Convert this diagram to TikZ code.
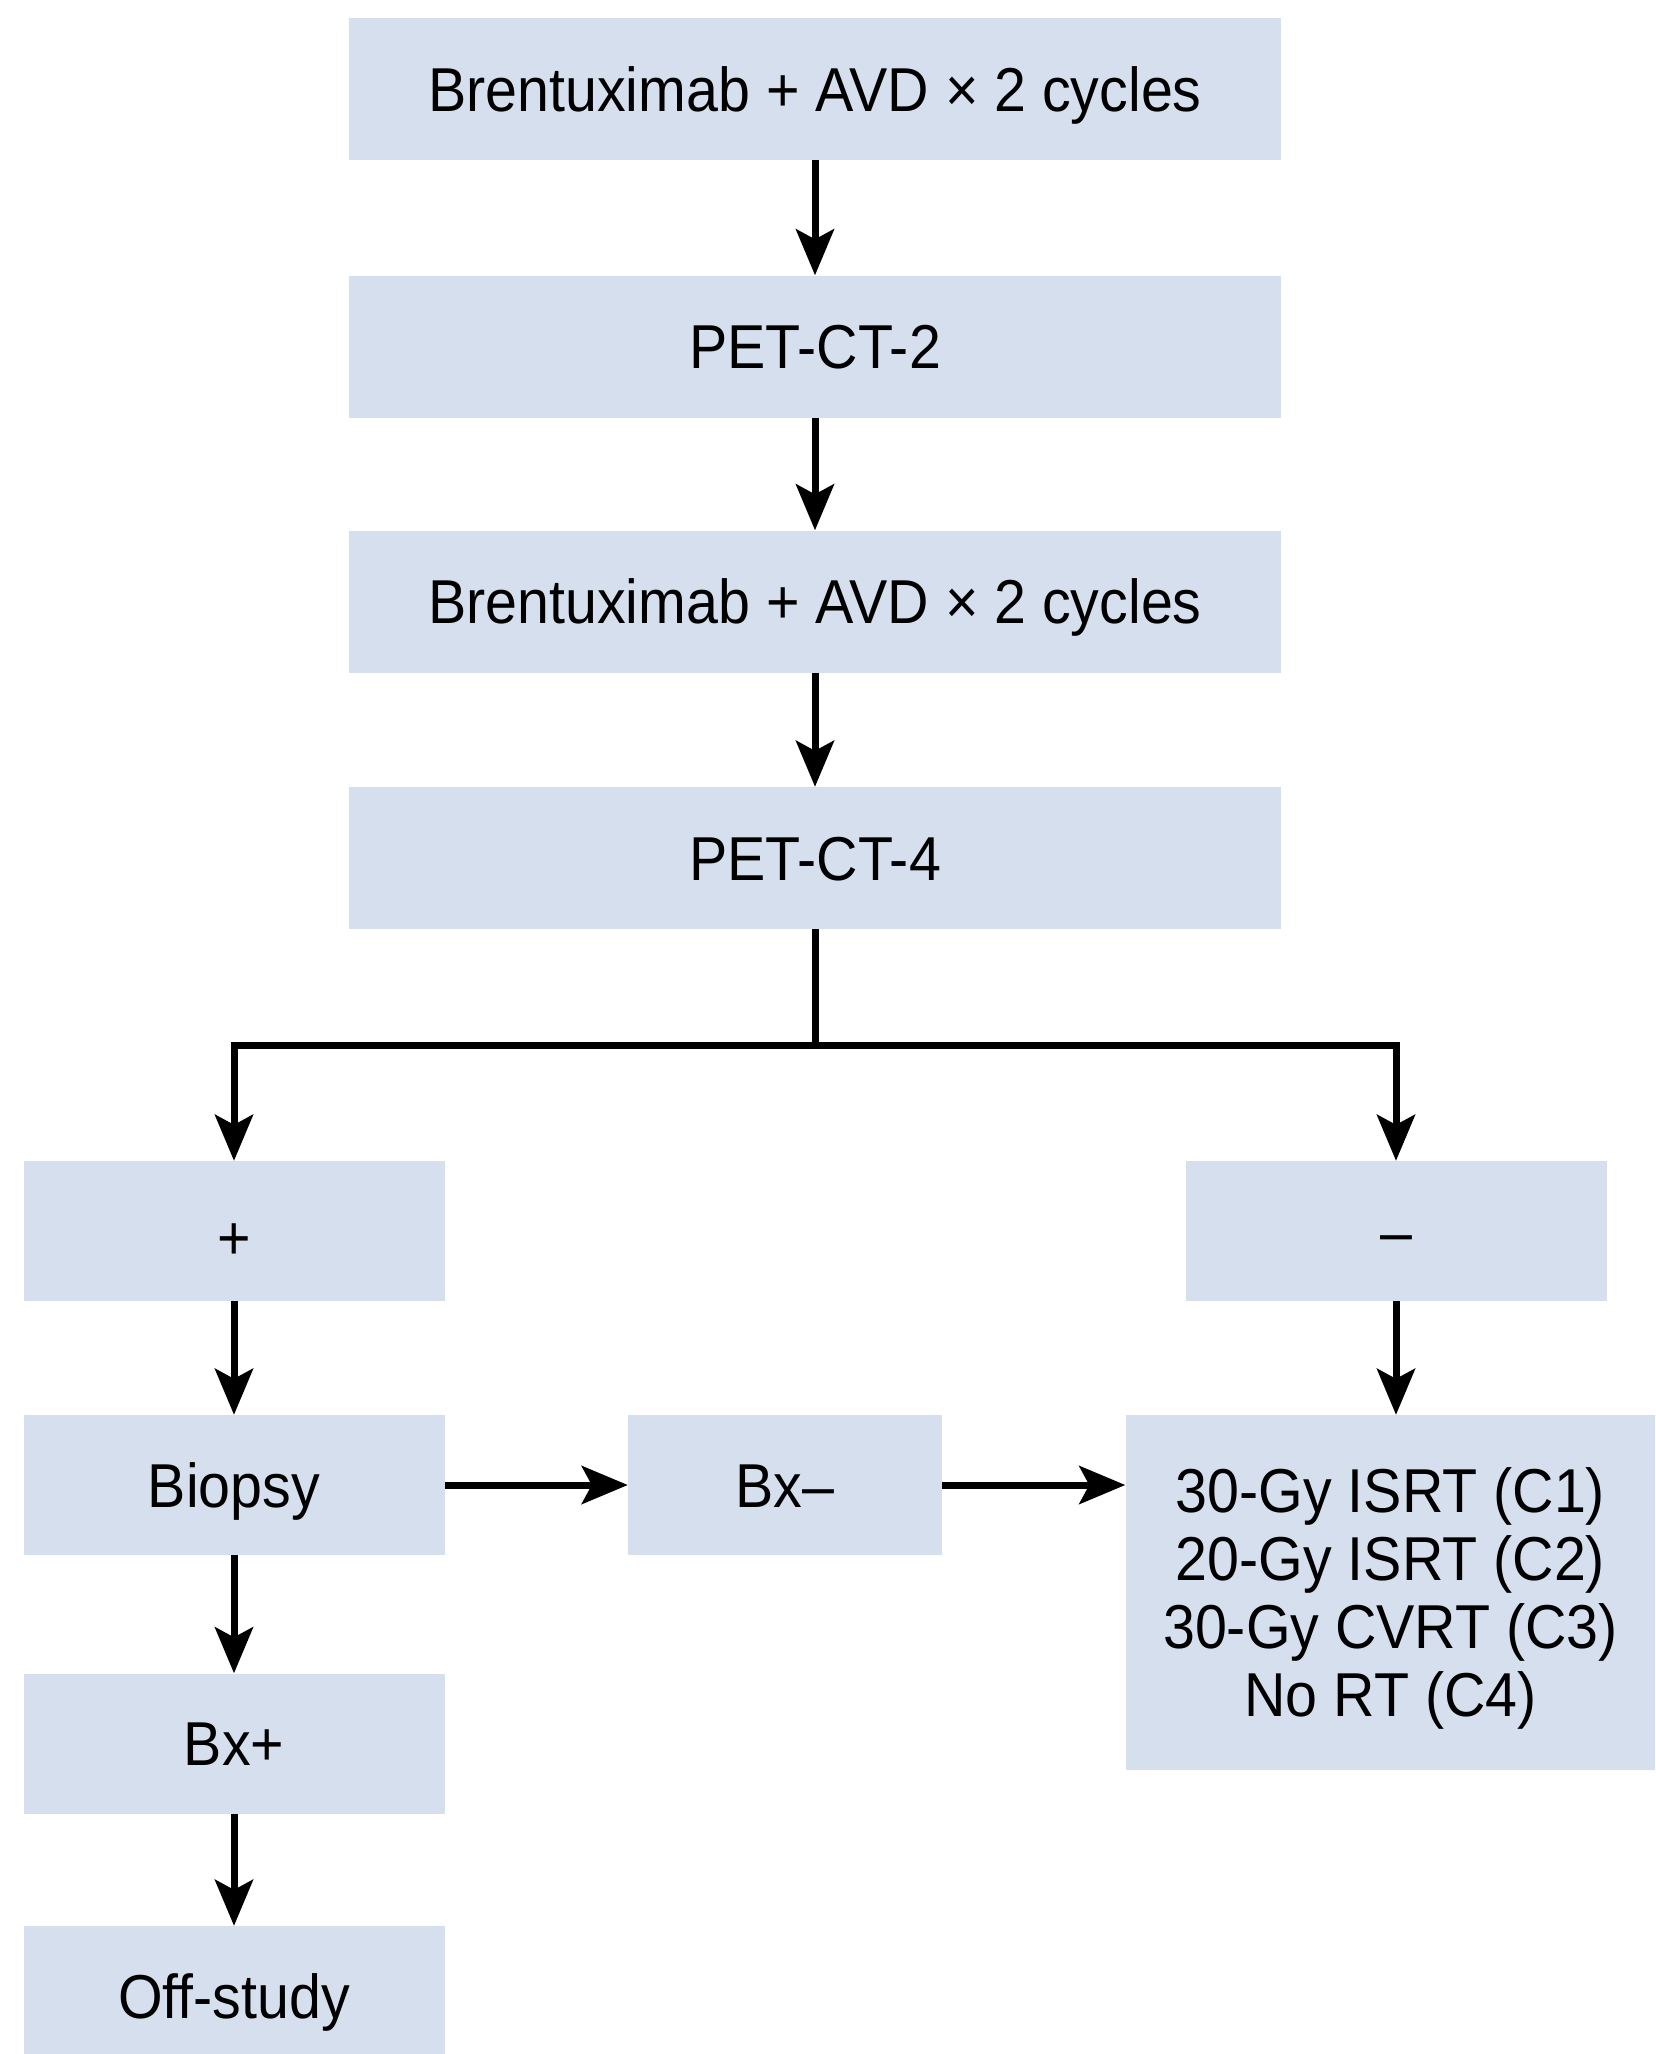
\documentclass[tikz,border=0pt]{standalone}
\usepackage{fontspec}
\setmainfont[FakeStretch=0.925]{Liberation Sans}
\usetikzlibrary{arrows.meta,calc}
\definecolor{boxfill}{HTML}{D5DFEE}
\begin{document}
\begin{tikzpicture}[x=1pt,y=-1pt,
  box/.style={fill=boxfill, inner sep=0pt, align=center,
    font=\fontsize{62}{68}\selectfont, text height=44pt, text depth=0pt},
  mbox/.style={fill=boxfill, inner sep=0pt, align=center,
    font=\fontsize{62}{68}\selectfont, text depth=0pt},
  wide/.style={minimum width=932pt, minimum height=142pt},
  small/.style={minimum width=421pt, minimum height=140pt},
  conn/.style={line width=7pt, -{Stealth[length=46pt,width=38pt,inset=10pt]}},
  plain/.style={line width=7pt}]
\useasboundingbox (0,0) rectangle (1655,2054);
\clip (0,0) rectangle (1655,2054);

\node[box, wide] (b1) at (815,89) {Brentuximab + AVD × 2 cycles};
\node[box, wide] (b2) at (815,346.5) {PET-CT-2};
\node[box, wide] (b3) at (815,601.5) {Brentuximab + AVD × 2 cycles};
\node[box, wide] (b4) at (815,858) {PET-CT-4};

\node[box, small] (plus) at (234,1231) {\raisebox{-6pt}{+}};
\node[box, small] (minus) at (1396,1231) {–};
\node[box, small] (bx) at (234,1485) {Biopsy};
\node[box, minimum width=314pt, minimum height=140pt] (bxn) at (785,1485) {Bx–};
\node[box, small] (bxp) at (234,1743.5) {Bx+};
\node[box, small] (off) at (234,1996) {Off-study};
\node[mbox, minimum width=530pt, minimum height=355pt] (res) at (1390.5,1592.5)
  {30-Gy ISRT (C1)\\20-Gy ISRT (C2)\\30-Gy CVRT (C3)\\No RT (C4)};

\coordinate (jn) at (815,1045);

\draw[conn] (b1) -- (b2);
\draw[conn] (b2) -- (b3);
\draw[conn] (b3) -- (b4);
\draw[plain] (b4.south) -- (jn);
\draw[conn] (jn) -| (plus.north);
\draw[conn] (jn) -| (minus.north);
\draw[conn] (plus) -- (bx);
\draw[conn] (bx) -- (bxp);
\draw[conn] (bxp) -- (off);
\draw[conn] (bx) -- (bxn);
\draw[conn] (bxn.east) -- (bxn.east -| res.west);
\draw[conn] (minus.south) -- (minus.south |- res.north);
\end{tikzpicture}
\end{document}
